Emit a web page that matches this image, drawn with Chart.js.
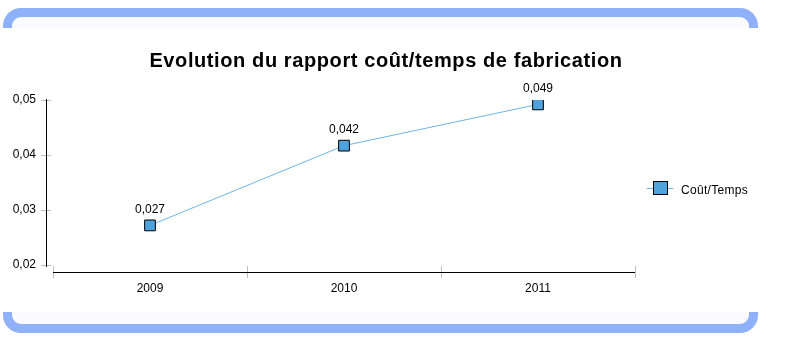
<!DOCTYPE html>
<html>
<head>
<meta charset="utf-8">
<script src="https://cdn.jsdelivr.net/npm/chart.js@4/dist/chart.umd.min.js"></script>
<style>
    body { margin: 0; background: #fff; }
    #wrap { position: relative; width: 800px; height: 340px; overflow: hidden; }
    #wrap canvas { position: absolute; left: 0; top: 0; }
    .band { position: absolute; left: 3px; width: 755px; height: 20px; box-sizing: border-box;
            border: 9px solid #8eb1fa; background: #fbfbff; }
    .band.top { top: 8px; border-bottom: 0; border-radius: 18px 18px 0 0; }
    .band.bottom { top: 312px; height: 21px; border-top: 0; border-radius: 0 0 18px 18px; }
    #title { position: absolute; left: 0; width: 772px; top: 49px; text-align: center;
             font: bold 20px "Liberation Sans", Arial, sans-serif; letter-spacing: 0.6px; color: #000; }
    #legend { position: absolute; left: 647px; top: 181px; font: 12px "Liberation Sans", Arial, sans-serif;
              color: #000; white-space: nowrap; }
    #legend .mk { position: absolute; left: 0; top: 0; width: 26px; height: 14px; }
    #legend .mk .ln { position: absolute; left: 0; top: 7px; width: 26px; height: 1px; background: #6cb6e6; }
    #legend .mk .sq { position: absolute; left: 6px; top: 0; width: 13px; height: 12px;
                      background: #4ea3dc; border: 1px solid #000; }
    #legend .tx { position: absolute; left: 34px; top: 2px; letter-spacing: 0.3px; }
</style>
</head>
<body>
<div id="wrap">
    <div class="band top"></div>
    <div class="band bottom"></div>
    <canvas id="chart" width="800" height="340"></canvas>
    <div id="title">Evolution du rapport coût/temps de fabrication</div>
    <div id="legend">
        <div class="mk"><div class="ln"></div><div class="sq"></div></div>
        <span class="tx">Coût/Temps</span>
    </div>
</div>
<script>
const years = ['2009', '2010', '2011'];
const coutTemps = [0.0272, 0.0417, 0.0492];
const yMin = 0.02;
const yMax = 0.05;
const yStep = 0.01;

const fmt = (v, d) => v.toFixed(d).replace('.', ',');

// axes drawn apart from each other, like the original
const axesPlugin = {
    id: 'axes',
    afterDraw(chart) {
        const { ctx, chartArea: a, scales: { x, y } } = chart;
        ctx.save();
        ctx.lineWidth = 1;
        // y ticks
        ctx.strokeStyle = '#c0c0c0';
        ctx.beginPath();
        y.ticks.forEach(t => {
            const py = Math.round(y.getPixelForValue(t.value)) + 0.5;
            ctx.moveTo(a.left - 12, py);
            ctx.lineTo(a.left - 2, py);
        });
        // x ticks at category boundaries
        for (let i = 0; i <= years.length; i++) {
            const px = Math.round(x.getPixelForValue(i - 0.5)) + 0.5;
            ctx.moveTo(px, a.bottom + 1);
            ctx.lineTo(px, a.bottom + 13);
        }
        ctx.stroke();
        ctx.strokeStyle = '#000';
        ctx.beginPath();
        ctx.moveTo(a.left - 6.5, a.top - 1);
        ctx.lineTo(a.left - 6.5, a.bottom + 2);
        ctx.moveTo(a.left, a.bottom + 7.5);
        ctx.lineTo(a.right, a.bottom + 7.5);
        ctx.stroke();
        ctx.restore();
    },
    afterDatasetsDraw(chart) {
        const { ctx } = chart;
        ctx.save();
        ctx.font = '12px "Liberation Sans", Arial, sans-serif';
        ctx.fillStyle = '#000';
        ctx.textAlign = 'center';
        ctx.textBaseline = 'middle';
        chart.getDatasetMeta(0).data.forEach((el, i) => {
            ctx.fillText(fmt(coutTemps[i], 3), el.x, el.y - 16);
        });
        ctx.restore();
    }
};

Chart.defaults.font.family = '"Liberation Sans", Arial, sans-serif';
Chart.defaults.font.size = 12;
Chart.defaults.color = '#000';

new Chart(document.getElementById('chart'), {
    type: 'line',
    data: {
        labels: years,
        datasets: [{
            label: 'Coût/Temps',
            data: coutTemps,
            borderColor: '#6cb6e6',
            borderWidth: 1,
            pointStyle: 'rect',
            pointRadius: 7.6,
            pointHoverRadius: 7.6,
            pointBackgroundColor: '#4ea3dc',
            pointBorderColor: '#000',
            pointBorderWidth: 1,
            tension: 0
        }]
    },
    options: {
        responsive: false,
        animation: false,
        events: [],
        layout: { padding: { left: 0, top: 100, right: 165, bottom: 35 } },
        plugins: {
            legend: { display: false },
            title: { display: false },
            tooltip: { enabled: false }
        },
        scales: {
            x: {
                type: 'category',
                offset: true,
                grid: { display: false, drawTicks: false },
                border: { display: false },
                ticks: { padding: 16 },
                afterFit: s => { s.width; s.height = 40; }
            },
            y: {
                min: yMin,
                max: yMax,
                grid: { display: false, drawTicks: false },
                border: { display: false },
                ticks: {
                    stepSize: yStep,
                    padding: 17,
                    callback: v => fmt(v, 2)
                },
                afterFit: s => { s.width = 53; }
            }
        }
    },
    plugins: [axesPlugin]
});
</script>
</body>
</html>
